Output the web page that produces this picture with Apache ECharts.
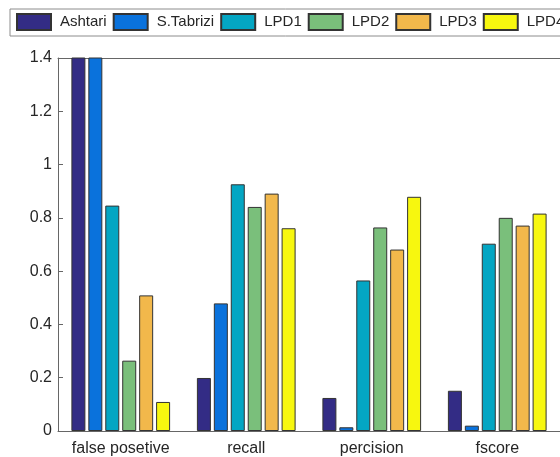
<!DOCTYPE html>
<html>
<head>
<meta charset="utf-8">
<script src="https://cdn.jsdelivr.net/npm/echarts@6/dist/echarts.min.js"></script>
<style>html,body{margin:0;padding:0;background:#fff}#c{width:560px;height:457px}</style>
</head>
<body>
<div id="c"></div>
<script>
const categories = ['false posetive', 'recall', 'percision', 'fscore'];
const seriesNames = ['Ashtari', 'S.Tabrizi', 'LPD1', 'LPD2', 'LPD3', 'LPD4'];
const ashtari = [1.9, 0.199, 0.124, 0.151];
const sTabrizi = [1.7, 0.479, 0.014, 0.020];
const lpd1 = [0.846, 0.926, 0.565, 0.703];
const lpd2 = [0.264, 0.841, 0.764, 0.800];
const lpd3 = [0.509, 0.891, 0.681, 0.771];
const lpd4 = [0.109, 0.761, 0.879, 0.816];
const yTicks = { min: 0, max: 1.4, interval: 0.2 };

const values = [ashtari, sTabrizi, lpd1, lpd2, lpd3, lpd4];
const colors = ['#332c85', '#0a72dc', '#04a6c3', '#7abf7b', '#f2b84b', '#f7f70f'];
const axisColor = '#666666';
const textColor = '#262626';
const font = 'Liberation Sans, Arial, sans-serif';

const chart = echarts.init(document.getElementById('c'), null, { renderer: 'canvas' });
chart.setOption({
  animation: false,
  backgroundColor: '#ffffff',
  legend: {
    left: 10, top: 9, width: 800,
    padding: [4, 8, 5, 6],
    borderColor: '#8c8c8c', borderWidth: 1,
    itemWidth: 34, itemHeight: 16, itemGap: 6,
    icon: 'rect',
    textStyle: { fontFamily: font, fontSize: 15, color: textColor, padding: [0, 0, 0, 4] },
    data: seriesNames
  },
  grid: { left: 58, top: 58, right: -6, bottom: 26 },
  xAxis: [{
    type: 'category', data: categories,
    axisLine: { lineStyle: { color: axisColor, width: 1 } },
    axisTick: { inside: true, alignWithLabel: true, length: 5, lineStyle: { color: axisColor } },
    axisLabel: { interval: 0, fontFamily: font, fontSize: 16, color: textColor, margin: 10 }
  }, {
    type: 'category', data: categories, position: 'top',
    axisLine: { lineStyle: { color: axisColor, width: 1 } },
    axisTick: { inside: true, alignWithLabel: true, length: 5, lineStyle: { color: axisColor } },
    axisLabel: { show: false }
  }],
  yAxis: [{
    type: 'value', min: yTicks.min, max: yTicks.max, interval: yTicks.interval,
    axisLine: { show: true, lineStyle: { color: axisColor, width: 1 } },
    axisTick: { show: true, inside: true, length: 5, lineStyle: { color: axisColor } },
    axisLabel: { fontFamily: font, fontSize: 16, color: textColor, margin: 6 },
    splitLine: { show: false }
  }],
  series: seriesNames.map((name, i) => ({
    name, type: 'bar', data: values[i],
    barWidth: 14, barGap: '21%',
    clip: true,
    itemStyle: { color: colors[i], borderColor: '#333333', borderWidth: 1 }
  }))
});
</script>
</body>
</html>
